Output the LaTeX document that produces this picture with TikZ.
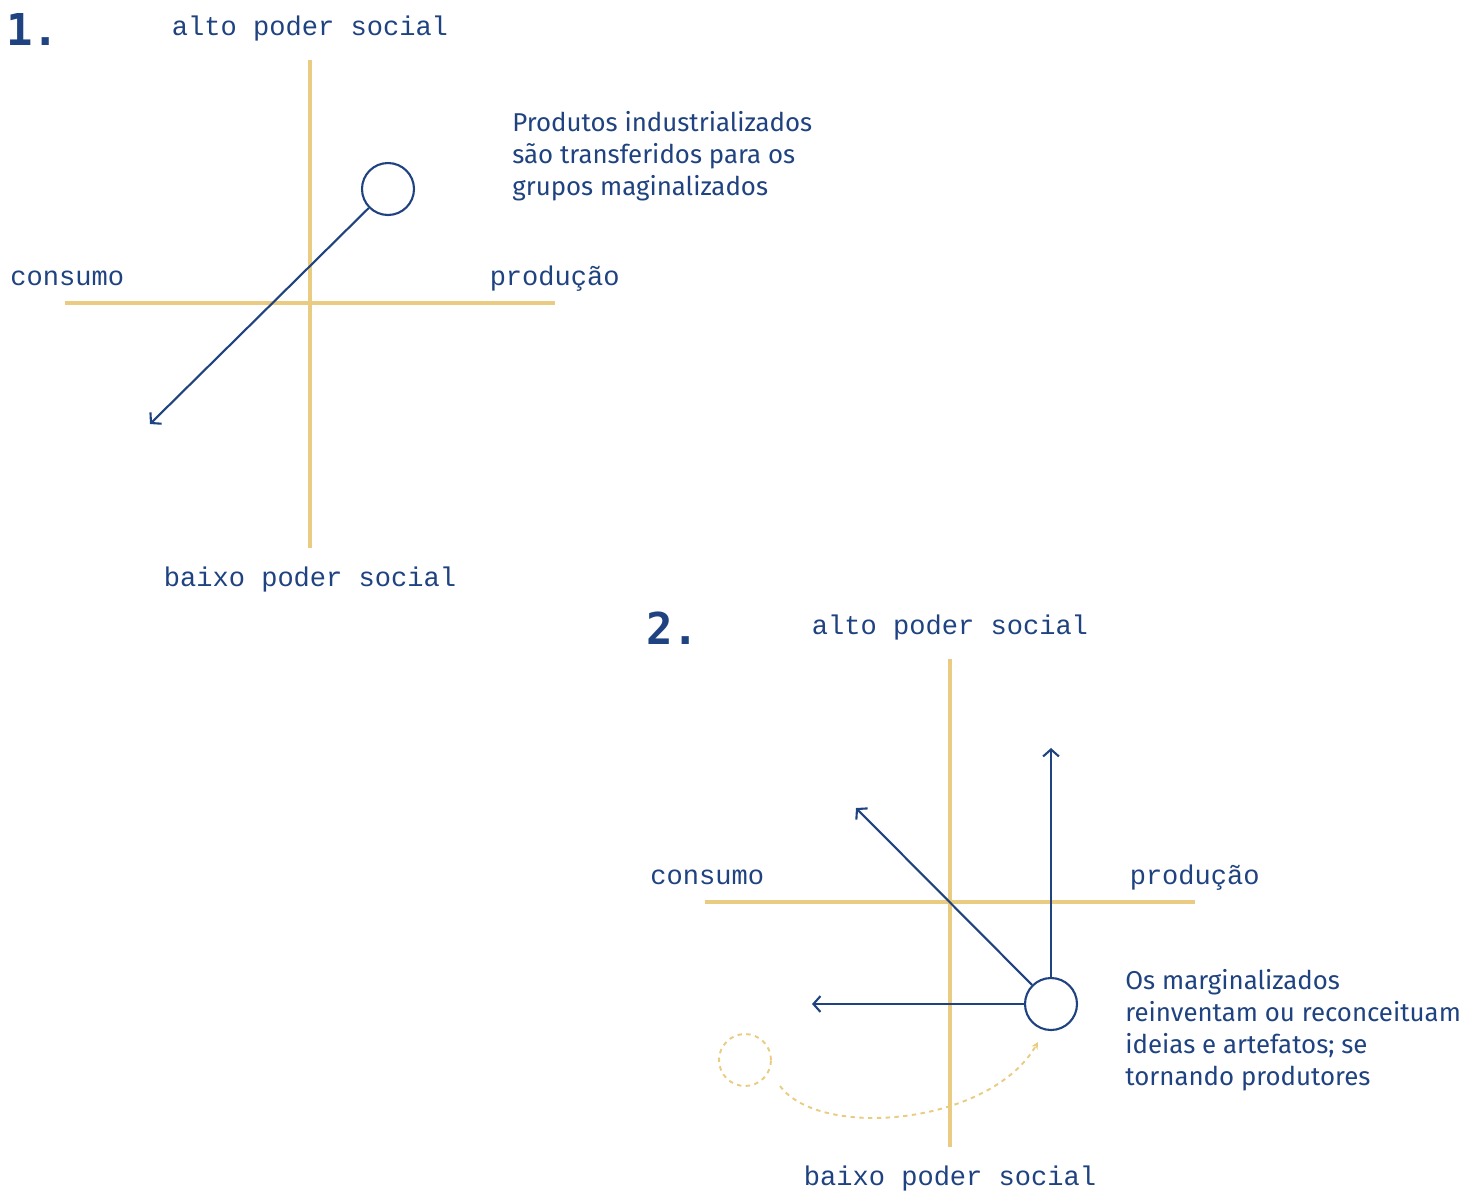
\documentclass[tikz,border=0pt]{standalone}
\usepackage{fontspec}
\setmainfont{Fira Sans}
\setmonofont{Liberation Mono}
\newfontfamily\numfont{DejaVu Sans Mono}
\usetikzlibrary{arrows.meta}
\definecolor{navy}{RGB}{31,66,128}
\definecolor{sand}{RGB}{233,204,130}
\tikzset{
	axis/.style={sand,line width=2.8pt},
	flow/.style={navy,line width=1.2pt,-{Straight Barb[length=4pt,width=9pt]}},
	item/.style={circle,draw=navy,line width=1.2pt,minimum size=1.04cm,inner sep=0pt,fill=white},
	ghost/.style={circle,draw=sand,line width=1.1pt,dash pattern=on 2.5pt off 2.5pt,minimum size=1.04cm,inner sep=0pt},
	lbl/.style={navy,font=\ttfamily\fontsize{15.4}{18}\selectfont,inner sep=0pt},
	num/.style={navy,font=\numfont\bfseries\fontsize{25}{27}\selectfont,inner sep=0pt},
	note/.style={navy,font=\fontsize{14.7}{18.2}\selectfont,align=left,inner sep=0pt},
}
\begin{document}
\begin{tikzpicture}[x=0.02cm,y=-0.02cm]
\useasboundingbox (0,0) rectangle (1480,1191);
% the two quadrant frames
\foreach \dx/\dy/\n in {0/0/1,640/599/2}{
	\begin{scope}[shift={(\dx,\dy)}]
		\draw[axis] (310,60) -- (310,548);
		\draw[axis] (65,303) -- (555,303);
		\node (alto\n) at (310,35) [lbl,anchor=base] {alto poder social};
		\node (baixo\n) at (310,586) [lbl,anchor=base] {baixo poder social};
		\node (cons\n) at (10,285) [lbl,anchor=base west] {consumo};
		\node (prod\n) at (620,285) [lbl,anchor=base east] {produção};
		\node (num\n) at (6,45) [num,anchor=base west] {\n.};
	\end{scope}
}
% 1: products go down to the margins
\node (c1) at (388,189) [item] {};
\coordinate (t1) at (150,424);
\draw[flow] (c1) -- (t1);
\node (note1) at (512,111) [note,anchor=north west] {Produtos industrializados\\são transferidos para os\\grupos maginalizados};
% 2: the margins push back
\node (g2) at (745,1060) [ghost] {};
\coordinate (s2) at (780,1086);
\coordinate (e2) at (1038,1042);
\draw[sand,line width=1.1pt,dash pattern=on 2.5pt off 2.5pt,-{Stealth[length=4pt,width=4pt]}] (s2) .. controls (820,1140) and (990,1125) .. (e2);
\node (c2) at (1051,1004) [item] {};
\coordinate (up2) at (1051,748);
\coordinate (diag2) at (856,808);
\coordinate (left2) at (812,1004);
\draw[flow] (c2) -- (up2);
\draw[flow] (c2) -- (diag2);
\draw[flow] (c2) -- (left2);
\node (note2) at (1125,969) [note,anchor=north west] {Os marginalizados\\reinventam ou reconceituam\\ideias e artefatos; se\\tornando produtores};
\end{tikzpicture}
\end{document}
